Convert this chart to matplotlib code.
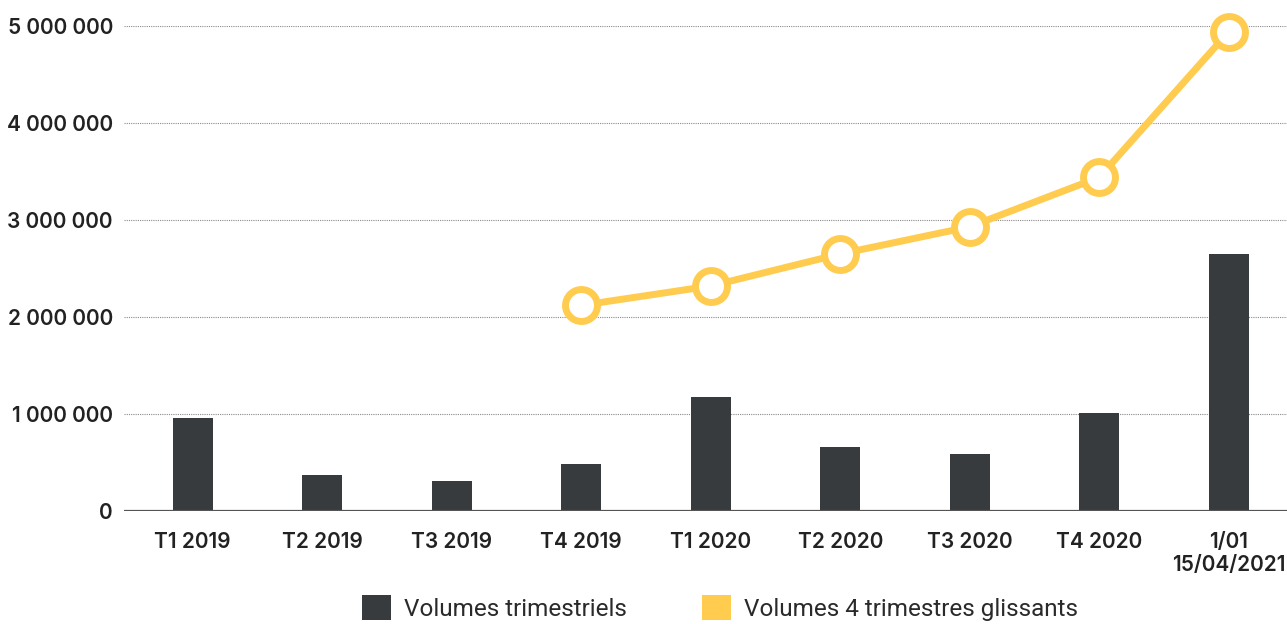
import matplotlib
matplotlib.use("Agg")
import matplotlib.pyplot as plt
from matplotlib.patches import Patch
import numpy as np

categories = ["T1 2019", "T2 2019", "T3 2019", "T4 2019", "T1 2020",
              "T2 2020", "T3 2020", "T4 2020", "1/01\n15/04/2021"]
volumes_trimestriels = [955000, 370000, 310000, 485000, 1175000,
                        660000, 590000, 1010000, 2650000]
# rolling 4-quarter totals start at T4 2019
glissant_index = [3, 4, 5, 6, 7, 8]
volumes_glissants = [2120000, 2320000, 2650000, 2930000, 3440000, 4940000]
y_ticks = [0, 1000000, 2000000, 3000000, 4000000, 5000000]
y_tick_labels = ["0", "1 000 000", "2 000 000", "3 000 000", "4 000 000", "5 000 000"]

BAR = "#383B3E"
YELLOW = "#FFCC4F"

fig = plt.figure(figsize=(12.87, 6.24), dpi=100)
ax = fig.add_axes([124 / 1287, 1 - 511 / 624, 1 - 124 / 1287, (511 - 26) / 624])

x = np.arange(len(categories))
ax.bar(x, volumes_trimestriels, width=0.31, color=BAR, zorder=3)
ax.plot(glissant_index, volumes_glissants, color=YELLOW, lw=5, zorder=4,
        marker="o", markersize=23, markerfacecolor="white",
        markeredgecolor=YELLOW, markeredgewidth=5, clip_on=False)

ax.set_xlim(-0.53, 8.45)
ax.set_ylim(0, 5000000)
ax.set_yticks(y_ticks)
ax.set_yticklabels(y_tick_labels)
ax.set_xticks(x)
ax.set_xticklabels(categories)

for s in ax.spines.values():
    s.set_visible(False)
ax.axhline(0, color="#555555", lw=1.6, zorder=5)
ax.yaxis.grid(True, linestyle=(0, (1, 1)), color="#8a8a8a", lw=0.8, zorder=0)
ax.tick_params(axis="both", length=0, colors="#222222")
ax.tick_params(axis="y", pad=8)
ax.tick_params(axis="x", pad=15)
for lab in ax.get_yticklabels() + ax.get_xticklabels():
    lab.set_fontfamily("Inter")
    lab.set_fontweight("semibold")
    lab.set_fontsize(15)
    lab.set_color("#222222")

handles = [Patch(facecolor=BAR, edgecolor="none"),
           Patch(facecolor=YELLOW, edgecolor="none")]
fig.legend(handles, ["Volumes trimestriels", "Volumes 4 trimestres glissants"],
           loc="center", bbox_to_anchor=(720 / 1287, 1 - 608 / 624), ncol=2,
           frameon=False, handlelength=1.2, handleheight=1.2,
           handletextpad=0.55, columnspacing=3.05,
           prop={"family": "Roboto", "weight": "normal", "size": 17.5})
for t in fig.legends[0].get_texts():
    t.set_color("#2a2a2a")

fig.savefig("out.png", dpi=100)
